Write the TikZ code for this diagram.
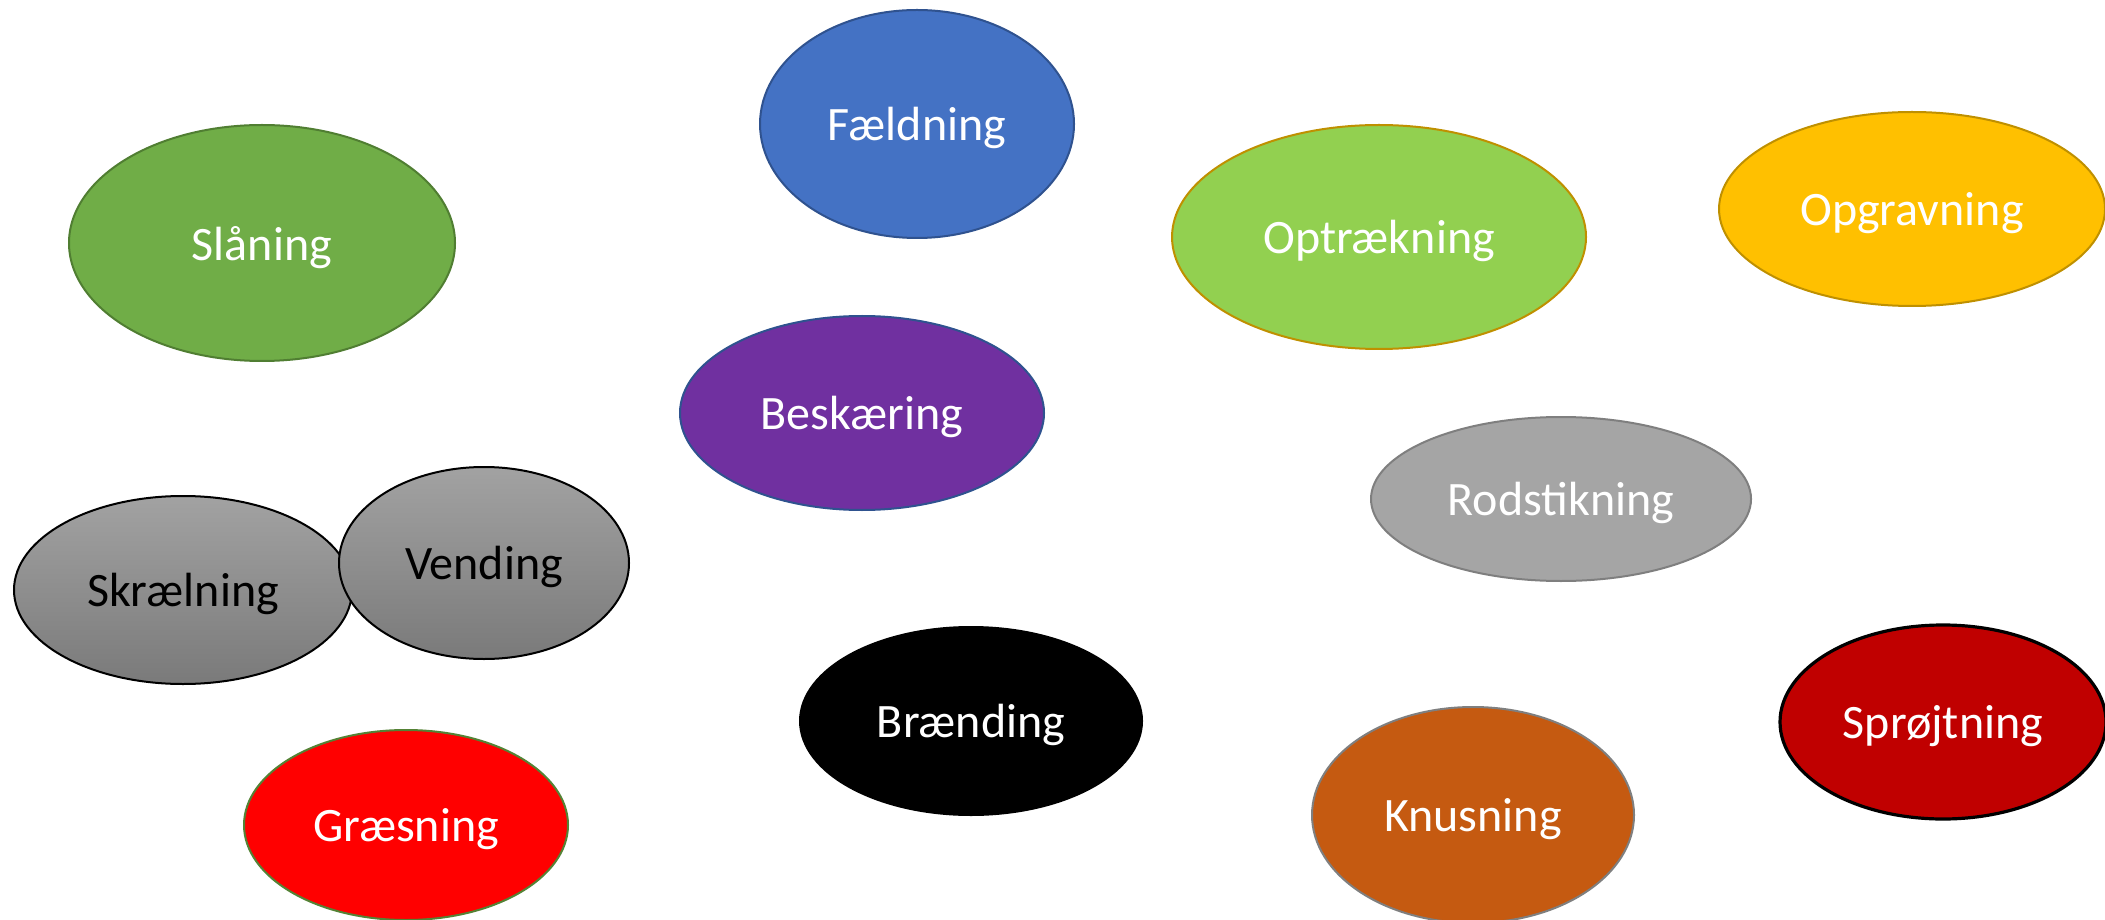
\documentclass[tikz,border=0pt]{standalone}
\usepackage{fontspec}
\setmainfont{Carlito}
\usetikzlibrary{shapes.geometric}
\definecolor{fblue}{HTML}{4472C4}
\definecolor{fblueline}{HTML}{2F528F}
\definecolor{sgreen}{HTML}{70AD47}
\definecolor{sgreenline}{HTML}{507E32}
\definecolor{lgreen}{HTML}{92D050}
\definecolor{goldline}{HTML}{BF9000}
\definecolor{ogold}{HTML}{FFC000}
\definecolor{bpurple}{HTML}{7030A0}
\definecolor{rgray}{HTML}{A5A5A5}
\definecolor{rgrayline}{HTML}{7F7F7F}
\definecolor{gtop}{HTML}{A2A2A2}
\definecolor{gbottom}{HTML}{7A7A7A}
\definecolor{gred}{HTML}{FF0000}
\definecolor{ggreenline}{HTML}{548235}
\definecolor{korange}{HTML}{C55A11}
\definecolor{sred}{HTML}{C00000}
\tikzset{
  blob/.style={ellipse, draw, line width=0.5pt, inner sep=0pt, text=white,
    text depth=0pt, font=\fontsize{12}{14}\selectfont},
  blobsize/.style 2 args={minimum width=#1*0.5pt, minimum height=#2*0.5pt},
}

\begin{document}
\begin{tikzpicture}[x=0.25pt, y=-0.25pt]
			%%%%% START %%%%%
			\useasboundingbox (0, 0) rectangle (2105, 919);
			
			\node[blob, fill=fblue, draw=fblueline, blobsize={157}{114}] (faeldning) at (917, 124) {Fældning};
			\node[blob, fill=sgreen, draw=sgreenline, blobsize={193}{118}] (slaaning) at (262, 243) {Slåning};
			\node[blob, fill=lgreen, draw=goldline, blobsize={207}{112}] (optraekning) at (1379, 237) {Optrækning};
			\node[blob, fill=ogold, draw=goldline, blobsize={193}{97}] (opgravning) at (1912, 209) {Opgravning};
			\node[blob, fill=bpurple, draw=fblueline, blobsize={182}{97}] (beskaering) at (862, 413) {Beskæring};
			\node[blob, fill=rgray, draw=rgrayline, blobsize={190}{82}] (rodstikning) at (1561, 499) {Rodstikning};
			
			\node[blob, top color=gtop, bottom color=gbottom, draw=black, text=black, blobsize={169}{94}] (skraelning) at (183, 590) {Skrælning};
			\node[blob, top color=gtop, bottom color=gbottom, draw=black, text=black, blobsize={145}{96}] (vending) at (484, 563) {Vending};
			
			\node[blob, fill=black, draw=black, blobsize={171}{94}] (braending) at (971, 721) {Brænding};
			\node[blob, fill=gred, draw=ggreenline, blobsize={162}{95}] (graesning) at (406, 825) {Græsning};
			\node[blob, fill=korange, draw=rgrayline, blobsize={161}{108}] (knusning) at (1473, 815) {Knusning};
			\node[blob, fill=sred, draw=black, line width=0.8pt, blobsize={163}{97}] (sproejtning) at (1943, 722) {Sprøjtning};
			%%%%% END %%%%%
		\end{tikzpicture}
\end{document}
